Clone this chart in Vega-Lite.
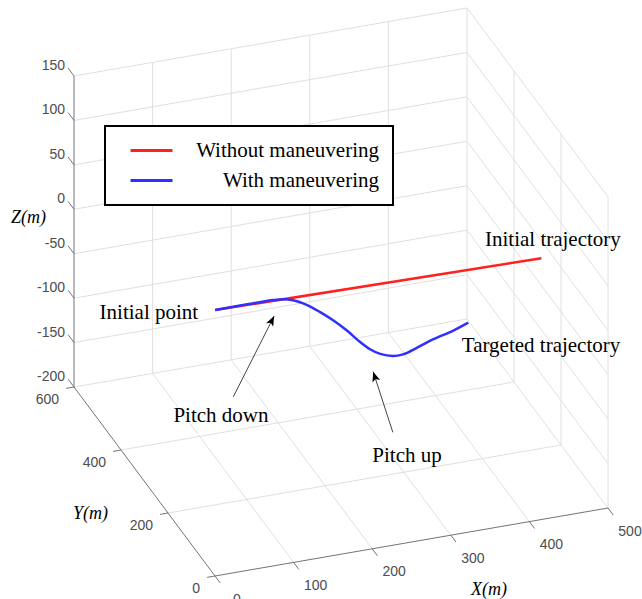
{
"$schema": "https://vega.github.io/schema/vega-lite/v6.json",
"width": 642, "height": 599, "autosize": {"type": "none"}, "padding": 0,
"background": "white",
"config": {"view": {"stroke": null}, "legend": {"strokeWidth": 2}},
"data": {"values": [
{"part":"grid","x":100,"y":600,"z":-200,"x2":100,"y2":600,"z2":150},
{"part":"grid","x":200,"y":600,"z":-200,"x2":200,"y2":600,"z2":150},
{"part":"grid","x":300,"y":600,"z":-200,"x2":300,"y2":600,"z2":150},
{"part":"grid","x":400,"y":600,"z":-200,"x2":400,"y2":600,"z2":150},
{"part":"grid","x":500,"y":600,"z":-200,"x2":500,"y2":600,"z2":150},
{"part":"grid","x":0,"y":600,"z":-150,"x2":500,"y2":600,"z2":-150},
{"part":"grid","x":0,"y":600,"z":-100,"x2":500,"y2":600,"z2":-100},
{"part":"grid","x":0,"y":600,"z":-50,"x2":500,"y2":600,"z2":-50},
{"part":"grid","x":0,"y":600,"z":0,"x2":500,"y2":600,"z2":0},
{"part":"grid","x":0,"y":600,"z":50,"x2":500,"y2":600,"z2":50},
{"part":"grid","x":0,"y":600,"z":100,"x2":500,"y2":600,"z2":100},
{"part":"grid","x":0,"y":600,"z":150,"x2":500,"y2":600,"z2":150},
{"part":"grid","x":500,"y":0,"z":-200,"x2":500,"y2":0,"z2":150},
{"part":"grid","x":500,"y":200,"z":-200,"x2":500,"y2":200,"z2":150},
{"part":"grid","x":500,"y":400,"z":-200,"x2":500,"y2":400,"z2":150},
{"part":"grid","x":500,"y":0,"z":-150,"x2":500,"y2":600,"z2":-150},
{"part":"grid","x":500,"y":0,"z":-100,"x2":500,"y2":600,"z2":-100},
{"part":"grid","x":500,"y":0,"z":-50,"x2":500,"y2":600,"z2":-50},
{"part":"grid","x":500,"y":0,"z":0,"x2":500,"y2":600,"z2":0},
{"part":"grid","x":500,"y":0,"z":50,"x2":500,"y2":600,"z2":50},
{"part":"grid","x":500,"y":0,"z":100,"x2":500,"y2":600,"z2":100},
{"part":"grid","x":500,"y":0,"z":150,"x2":500,"y2":600,"z2":150},
{"part":"grid","x":100,"y":0,"z":-200,"x2":100,"y2":600,"z2":-200},
{"part":"grid","x":200,"y":0,"z":-200,"x2":200,"y2":600,"z2":-200},
{"part":"grid","x":300,"y":0,"z":-200,"x2":300,"y2":600,"z2":-200},
{"part":"grid","x":400,"y":0,"z":-200,"x2":400,"y2":600,"z2":-200},
{"part":"grid","x":500,"y":0,"z":-200,"x2":500,"y2":600,"z2":-200},
{"part":"grid","x":0,"y":200,"z":-200,"x2":500,"y2":200,"z2":-200},
{"part":"grid","x":0,"y":400,"z":-200,"x2":500,"y2":400,"z2":-200},
{"part":"grid","x":0,"y":600,"z":-200,"x2":500,"y2":600,"z2":-200},
{"part":"axis","x":0,"y":600,"z":-200,"x2":0,"y2":600,"z2":150},
{"part":"axis","x":0,"y":0,"z":-200,"x2":0,"y2":600,"z2":-200},
{"part":"axis","x":0,"y":0,"z":-200,"x2":500,"y2":0,"z2":-200},
{"part":"tick","x":0,"y":600,"z":-200,"x2":0,"y2":625,"z2":-200},
{"part":"tick","x":0,"y":600,"z":-150,"x2":0,"y2":625,"z2":-150},
{"part":"tick","x":0,"y":600,"z":-100,"x2":0,"y2":625,"z2":-100},
{"part":"tick","x":0,"y":600,"z":-50,"x2":0,"y2":625,"z2":-50},
{"part":"tick","x":0,"y":600,"z":0,"x2":0,"y2":625,"z2":0},
{"part":"tick","x":0,"y":600,"z":50,"x2":0,"y2":625,"z2":50},
{"part":"tick","x":0,"y":600,"z":100,"x2":0,"y2":625,"z2":100},
{"part":"tick","x":0,"y":600,"z":150,"x2":0,"y2":625,"z2":150},
{"part":"tick","x":0,"y":0,"z":-200,"x2":-10,"y2":0,"z2":-200},
{"part":"tick","x":0,"y":200,"z":-200,"x2":-10,"y2":200,"z2":-200},
{"part":"tick","x":0,"y":400,"z":-200,"x2":-10,"y2":400,"z2":-200},
{"part":"tick","x":0,"y":600,"z":-200,"x2":-10,"y2":600,"z2":-200},
{"part":"tick","x":0,"y":0,"z":-200,"x2":0,"y2":-22,"z2":-200},
{"part":"tick","x":100,"y":0,"z":-200,"x2":100,"y2":-22,"z2":-200},
{"part":"tick","x":200,"y":0,"z":-200,"x2":200,"y2":-22,"z2":-200},
{"part":"tick","x":300,"y":0,"z":-200,"x2":300,"y2":-22,"z2":-200},
{"part":"tick","x":400,"y":0,"z":-200,"x2":400,"y2":-22,"z2":-200},
{"part":"tick","x":500,"y":0,"z":-200,"x2":500,"y2":-22,"z2":-200},
{"part":"zlab","x":0,"y":600,"z":-200,"t":"-200"},
{"part":"zlab","x":0,"y":600,"z":-150,"t":"-150"},
{"part":"zlab","x":0,"y":600,"z":-100,"t":"-100"},
{"part":"zlab","x":0,"y":600,"z":-50,"t":"-50"},
{"part":"zlab","x":0,"y":600,"z":0,"t":"0"},
{"part":"zlab","x":0,"y":600,"z":50,"t":"50"},
{"part":"zlab","x":0,"y":600,"z":100,"t":"100"},
{"part":"zlab","x":0,"y":600,"z":150,"t":"150"},
{"part":"ylab","x":0,"y":0,"z":-200,"t":"0"},
{"part":"ylab","x":0,"y":200,"z":-200,"t":"200"},
{"part":"ylab","x":0,"y":400,"z":-200,"t":"400"},
{"part":"ylab","x":0,"y":600,"z":-200,"t":"600"},
{"part":"xlab","x":0,"y":0,"z":-200,"t":"0"},
{"part":"xlab","x":100,"y":0,"z":-200,"t":"100"},
{"part":"xlab","x":200,"y":0,"z":-200,"t":"200"},
{"part":"xlab","x":300,"y":0,"z":-200,"t":"300"},
{"part":"xlab","x":400,"y":0,"z":-200,"t":"400"},
{"part":"xlab","x":500,"y":0,"z":-200,"t":"500"},
{"part":"title","x":0,"y":600,"z":0,"t":"Z(m)"},
{"part":"title","x":0,"y":300,"z":-200,"t":"Y(m)"},
{"part":"title","x":350,"y":0,"z":-200,"t":"X(m)"},
{"part":"traj","series":"Without maneuvering","i":1,"x":75,"y":250,"z":-0.8},
{"part":"traj","series":"Without maneuvering","i":2,"x":490,"y":250,"z":-6},
{"part":"traj","series":"With maneuvering","i":1,"x":75,"y":250,"z":-0.8},
{"part":"traj","series":"With maneuvering","i":2,"x":98,"y":250,"z":-0.6},
{"part":"traj","series":"With maneuvering","i":3,"x":123,"y":250,"z":-0.7},
{"part":"traj","series":"With maneuvering","i":4,"x":149,"y":250,"z":-0.9},
{"part":"traj","series":"With maneuvering","i":5,"x":161,"y":250,"z":-1.9},
{"part":"traj","series":"With maneuvering","i":6,"x":174,"y":250,"z":-4.9},
{"part":"traj","series":"With maneuvering","i":7,"x":192,"y":250,"z":-13.1},
{"part":"traj","series":"With maneuvering","i":8,"x":208,"y":250,"z":-23.3},
{"part":"traj","series":"With maneuvering","i":9,"x":225,"y":250,"z":-35.3},
{"part":"traj","series":"With maneuvering","i":10,"x":243,"y":250,"z":-49.9},
{"part":"traj","series":"With maneuvering","i":11,"x":259,"y":250,"z":-64.7},
{"part":"traj","series":"With maneuvering","i":12,"x":272,"y":250,"z":-75.1},
{"part":"traj","series":"With maneuvering","i":13,"x":285,"y":250,"z":-82.3},
{"part":"traj","series":"With maneuvering","i":14,"x":301,"y":250,"z":-87.1},
{"part":"traj","series":"With maneuvering","i":15,"x":314,"y":250,"z":-87.3},
{"part":"traj","series":"With maneuvering","i":16,"x":332,"y":250,"z":-82.4},
{"part":"traj","series":"With maneuvering","i":17,"x":352,"y":250,"z":-76.3},
{"part":"traj","series":"With maneuvering","i":18,"x":378,"y":250,"z":-70.3},
{"part":"traj","series":"With maneuvering","i":19,"x":397,"y":250,"z":-64.3},
{"part":"arrow","t":"Pitch down","x":98,"y":250,"z":-102,"x2":150,"y2":250,"z2":-19},
{"part":"arrow","t":"Pitch up","x":301,"y":250,"z":-173,"x2":276,"y2":250,"z2":-101},
{"part":"note","t":"Initial point","x":75,"y":250,"z":-0.8},
{"part":"note","t":"Initial trajectory","x":490,"y":250,"z":-6},
{"part":"note","t":"Targeted trajectory","x":397,"y":250,"z":-64.3},
{"part":"note","t":"Pitch down","x":98,"y":250,"z":-102},
{"part":"note","t":"Pitch up","x":301,"y":250,"z":-173}
]},
"transform": [
{"calculate": "0.786*datum.x - 0.235*datum.y", "as": "sx"},
{"calculate": "0.136*datum.x + 0.315*datum.y + 0.8886*(datum.z + 200)", "as": "sy"},
{"calculate": "0.786*datum.x2 - 0.235*datum.y2", "as": "sx2"},
{"calculate": "0.136*datum.x2 + 0.315*datum.y2 + 0.8886*(datum.z2 + 200)", "as": "sy2"},
{"calculate": "atan2(datum.sx2 - datum.sx, datum.sy2 - datum.sy) * 180 / PI", "as": "ang"}
],
"encoding": {
"x": {"field": "sx", "type": "quantitative", "scale": {"domain": [-215, 427], "nice": false, "zero": false}, "axis": null},
"y": {"field": "sy", "type": "quantitative", "scale": {"domain": [-23, 576], "nice": false, "zero": false}, "axis": null}
},
"layer": [
{"transform": [{"filter": "datum.part == 'grid'"}], "mark": {"type": "rule", "stroke": "#e0e0e0", "strokeWidth": 1},
 "encoding": {"x2": {"field": "sx2"}, "y2": {"field": "sy2"}}},
{"transform": [{"filter": "datum.part == 'axis' || datum.part == 'tick'"}], "mark": {"type": "rule", "stroke": "#74727f", "strokeWidth": 1},
 "encoding": {"x2": {"field": "sx2"}, "y2": {"field": "sy2"}}},
{"transform": [{"filter": "datum.part == 'zlab'"}], "mark": {"type": "text", "align": "right", "baseline": "middle", "dx": -9, "dy": -10, "font": "Liberation Sans", "fontSize": 14, "fill": "#4d4d4d"},
 "encoding": {"text": {"field": "t"}}},
{"transform": [{"filter": "datum.part == 'ylab'"}], "mark": {"type": "text", "align": "right", "baseline": "middle", "dx": -15, "dy": 13, "font": "Liberation Sans", "fontSize": 14, "fill": "#4d4d4d"},
 "encoding": {"text": {"field": "t"}}},
{"transform": [{"filter": "datum.part == 'xlab'"}], "mark": {"type": "text", "align": "center", "baseline": "middle", "dx": 22, "dy": 23.5, "font": "Liberation Sans", "fontSize": 14, "fill": "#4d4d4d"},
 "encoding": {"text": {"field": "t"}}},
{"transform": [{"filter": "datum.part == 'title' && datum.t == 'Z(m)'"}], "mark": {"type": "text", "align": "center", "baseline": "middle", "dx": -45.5, "dy": 9, "font": "Liberation Serif", "fontStyle": "italic", "fontSize": 18, "fill": "black"},
 "encoding": {"text": {"field": "t"}}},
{"transform": [{"filter": "datum.part == 'title' && datum.t == 'Y(m)'"}], "mark": {"type": "text", "align": "center", "baseline": "middle", "dx": -54, "dy": 32, "font": "Liberation Serif", "fontStyle": "italic", "fontSize": 18, "fill": "black"},
 "encoding": {"text": {"field": "t"}}},
{"transform": [{"filter": "datum.part == 'title' && datum.t == 'X(m)'"}], "mark": {"type": "text", "align": "center", "baseline": "middle", "dx": -1, "dy": 61.5, "font": "Liberation Serif", "fontStyle": "italic", "fontSize": 18, "fill": "black"},
 "encoding": {"text": {"field": "t"}}},
{"transform": [{"filter": "datum.part == 'traj' && datum.series == 'Without maneuvering'"}], "mark": {"type": "line", "strokeWidth": 2.5},
 "encoding": {"order": {"field": "i", "type": "quantitative"},
  "color": {"field": "series", "type": "nominal",
   "scale": {"domain": ["Without maneuvering", "With maneuvering"], "range": ["#ff2020", "#2f2fff"]},
   "legend": {"title": null, "orient": "none", "legendX": 105, "legendY": 126, "direction": "vertical",
     "fillColor": "white", "strokeColor": "black", "padding": 14,
     "symbolType": "M-3,0H3", "symbolSize": 196, "symbolStrokeWidth": 3, "symbolOffset": 22,
     "labelAlign": "right", "labelOffset": 217, "rowPadding": 8, "labelFont": "Liberation Serif", "labelFontSize": 21, "labelColor": "black", "labelLimit": 0}}}},
{"transform": [{"filter": "datum.part == 'traj' && datum.series == 'With maneuvering'"}], "mark": {"type": "line", "strokeWidth": 2.5, "interpolate": "monotone"},
 "encoding": {"order": {"field": "i", "type": "quantitative"},
  "color": {"field": "series", "type": "nominal"}}},
{"transform": [{"filter": "datum.part == 'arrow'"}], "mark": {"type": "rule", "stroke": "#444444", "strokeWidth": 1},
 "encoding": {"x2": {"field": "sx2"}, "y2": {"field": "sy2"}}},
{"transform": [{"filter": "datum.part == 'arrow'"}], "mark": {"type": "point", "shape": "M0,0L-0.8,2L0,1.5L0.8,2Z", "size": 100, "filled": true, "fill": "black", "opacity": 1, "strokeWidth": 0},
 "encoding": {"x": {"field": "sx2", "type": "quantitative"}, "y": {"field": "sy2", "type": "quantitative"}, "angle": {"field": "ang", "type": "quantitative", "scale": null}}},
{"transform": [{"filter": "datum.part == 'note' && datum.t == 'Initial point'"}], "mark": {"type": "text", "align": "right", "baseline": "alphabetic", "dx": -17, "dy": 9, "font": "Liberation Serif", "fontSize": 21, "fill": "black"},
 "encoding": {"text": {"field": "t"}}},
{"transform": [{"filter": "datum.part == 'note' && datum.t == 'Initial trajectory'"}], "mark": {"type": "text", "align": "left", "baseline": "alphabetic", "dx": -56.4, "dy": -12.7, "font": "Liberation Serif", "fontSize": 21, "fill": "black"},
 "encoding": {"text": {"field": "t"}}},
{"transform": [{"filter": "datum.part == 'note' && datum.t == 'Targeted trajectory'"}], "mark": {"type": "text", "align": "left", "baseline": "alphabetic", "dx": -6.5, "dy": 29.8, "font": "Liberation Serif", "fontSize": 21, "fill": "black"},
 "encoding": {"text": {"field": "t"}}},
{"transform": [{"filter": "datum.part == 'note' && datum.t == 'Pitch down'"}], "mark": {"type": "text", "align": "center", "baseline": "alphabetic", "dx": -12.3, "dy": 24.7, "font": "Liberation Serif", "fontSize": 21, "fill": "black"},
 "encoding": {"text": {"field": "t"}}},
{"transform": [{"filter": "datum.part == 'note' && datum.t == 'Pitch up'"}], "mark": {"type": "text", "align": "center", "baseline": "alphabetic", "dx": 14.2, "dy": 29.7, "font": "Liberation Serif", "fontSize": 21, "fill": "black"},
 "encoding": {"text": {"field": "t"}}}
]
}
